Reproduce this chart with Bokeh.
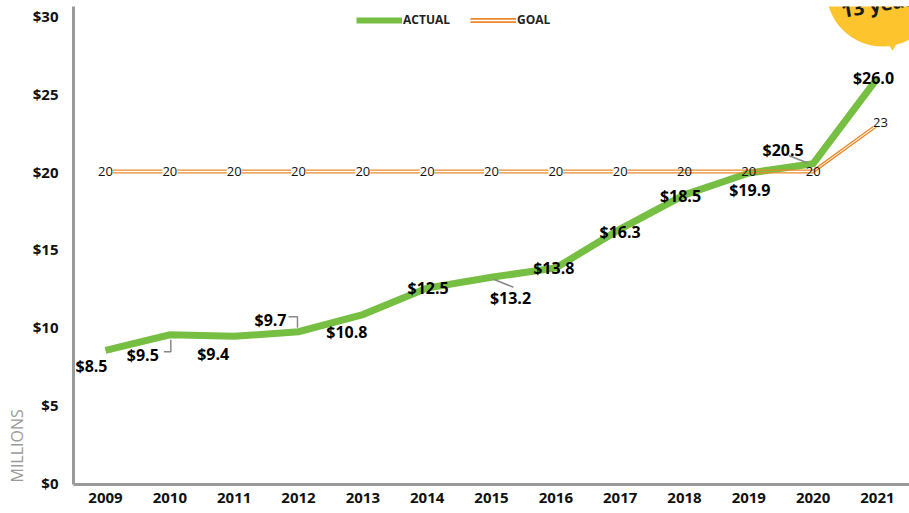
import math
from bokeh.plotting import figure
from bokeh.models import (Range1d, FixedTicker, NumeralTickFormatter, ColumnDataSource,
                          Legend, LegendItem, LabelSet, Title)
from bokeh.core.properties import value
from bokeh.embed import file_html
from bokeh.resources import INLINE

# ---------------- data ----------------
years = [2009, 2010, 2011, 2012, 2013, 2014, 2015, 2016, 2017, 2018, 2019, 2020, 2021]
year_labels = ["2009", "2010", "2011", "2012", "2013", "2014", "2015", "2016",
               "2017", "2018", "2019", "2020", "2021"]
actual = [8.5, 9.5, 9.4, 9.7, 10.8, 12.5, 13.2, 13.8, 16.3, 18.5, 19.9, 20.5, 26.0]
actual_labels = ["$8.5", "$9.5", "$9.4", "$9.7", "$10.8", "$12.5", "$13.2", "$13.8",
                 "$16.3", "$18.5", "$19.9", "$20.5", "$26.0"]
goal = [20, 20, 20, 20, 20, 20, 20, 20, 20, 20, 20, 20, 23]
goal_labels = ["20", "20", "20", "20", "20", "20", "20", "20", "20", "20", "20", "20", "23"]
y_ticks = [0, 5, 10, 15, 20, 25, 30]

# ---------------- style / layout ----------------
GREEN = "#76bf43"
ORANGE = "#ec8a2a"
AXIS_GRAY = "#9a9a9a"
YELLOW = "#fdc42e"
FONT = "Open Sans"

FIG_W, FIG_H = 909, 513
BORDER_L, BORDER_T, BORDER_B = 73, 6, 29
PX_X = 64.33   # pixels per year
PX_Y = 15.55   # pixels per million
x_start = years[0] - 32 / PX_X
x_end = x_start + (FIG_W - BORDER_L) / PX_X
y_start = -2 / PX_Y
y_end = y_start + (FIG_H - BORDER_T - BORDER_B) / PX_Y

# label offsets in screen pixels (positive y = down)
lab_dx = [-14, -27, -21, -28, -16, 1, 19, -2, 0, -4, 1, -30, -4]
lab_dy = [16, 20, 18, -12, 17, 0, 21, 0, 3, 1, 17, -14, 0]

p = figure(width=FIG_W, height=FIG_H, output_backend="svg", toolbar_location=None,
           x_range=Range1d(x_start, x_end), y_range=Range1d(y_start, y_end),
           min_border_left=BORDER_L, min_border_right=0, min_border_top=BORDER_T,
           min_border_bottom=BORDER_B)
p.outline_line_color = None
p.xgrid.visible = False
p.ygrid.visible = False
p.background_fill_color = "white"

# axes
for ax in (p.xaxis[0], p.yaxis[0]):
    ax.axis_line_color = AXIS_GRAY
    ax.axis_line_width = 3
    ax.major_tick_line_color = None
    ax.minor_tick_line_color = None
    ax.major_tick_out = 0
    ax.major_tick_in = 0
    ax.minor_tick_out = 0
    ax.minor_tick_in = 0
    ax.major_label_text_font = FONT
    ax.major_label_text_font_size = "15px"
    ax.major_label_text_color = "#111111"
    ax.major_label_text_font_style = "bold"

p.yaxis[0].ticker = FixedTicker(ticks=y_ticks)
p.yaxis[0].formatter = NumeralTickFormatter(format="$0")
p.yaxis[0].major_label_standoff = 15
p.xaxis[0].ticker = FixedTicker(ticks=years)
p.xaxis[0].major_label_overrides = {y: s for y, s in zip(years, year_labels)}
p.xaxis[0].major_label_standoff = 8

# "MILLIONS" unit label at the bottom of the left side
p.add_layout(Title(text="MILLIONS", align="left", text_font=FONT, text_font_size="16px",
                   text_font_style="normal", text_color="#9a9a9a", standoff=4,
                   offset=2), "left")

# yellow callout blob (cropped at top-right)
blob_x = years[-1] + 5 / PX_X
blob_y = y_end + 16 / PX_Y
p.scatter(x=[blob_x], y=[blob_y], size=112, marker="circle",
          fill_color=YELLOW, line_color=None)
p.scatter(x=[years[-1] + 15 / PX_X], y=[y_end - 39 / PX_Y], size=9, marker="triangle",
          angle=math.pi, fill_color=YELLOW, line_color=None)
p.text(x=[years[-1] - 36 / PX_X], y=[y_end - 4 / PX_Y], text=["13 years"],
       text_font=value(FONT), text_font_style="bold", text_font_size="20px",
       text_color="#1a1a1a", text_align="left", text_baseline="middle", angle=0.17)

# actual line
src = ColumnDataSource(dict(x=years, y=actual, lab=actual_labels, dx=lab_dx,
                            dy=[-d for d in lab_dy]))
p.line("x", "y", source=src, line_color=GREEN, line_width=7, line_join="miter")

# goal double line
off = 1.4 / PX_Y
p.line(years, [g + off for g in goal], line_color=ORANGE, line_width=1.3)
p.line(years, [g - off for g in goal], line_color=ORANGE, line_width=1.3)

# goal labels (white background where the actual line is far away)
near = [abs(a - g) < 2 for a, g in zip(actual, goal)]
g_dx = [3 if i == len(years) - 1 else 0 for i in range(len(years))]
g_dy = [-2 if i == len(years) - 1 else 0 for i in range(len(years))]


def subset(flag):
    idx = [i for i, n in enumerate(near) if n == flag]
    return ColumnDataSource(dict(x=[years[i] for i in idx], y=[goal[i] for i in idx],
                                 t=[goal_labels[i] for i in idx],
                                 dx=[g_dx[i] for i in idx], dy=[g_dy[i] for i in idx]))


p.text("x", "y", text="t", source=subset(False), x_offset="dx", y_offset="dy",
       text_font=value(FONT), text_font_size="13px", text_color="#111111",
       text_align="center", text_baseline="middle", background_fill_color="white")
p.text("x", "y", text="t", source=subset(True), x_offset="dx", y_offset="dy",
       text_font=value(FONT), text_font_size="13px", text_color="#111111",
       text_align="center", text_baseline="middle")

# leader lines (pixel offsets from the data point)
leaders = {1: [(-6, 17), (1, 17), (1, 5)],
           3: [(-10, -15), (-1, -15), (-1, -4)],
           6: [(2, 2), (22, 10)],
           11: [(-24, -8), (-6, -1)]}
xs, ys = [], []
for i, pts in leaders.items():
    xs.append([years[i] + dx / PX_X for dx, dy in pts])
    ys.append([actual[i] - dy / PX_Y for dx, dy in pts])
p.multi_line(xs, ys, line_color="#888888", line_width=1.5)

# value labels
p.add_layout(LabelSet(x="x", y="y", text="lab", source=src, x_offset="dx", y_offset="dy",
                      text_font=value(FONT), text_font_style="bold", text_font_size="16px",
                      text_color="#000000", text_align="center", text_baseline="middle"))

# legend (dummy renderers placed outside the visible range)
dx0 = [x_start - 5, x_start - 4]
dy0 = [0, 0]
r_leg_a = p.line(dx0, dy0, line_color=GREEN, line_width=6)
r_leg_o = p.line(dx0, dy0, line_color=ORANGE, line_width=5)
r_leg_w = p.line(dx0, dy0, line_color="white", line_width=1.6)
legend = Legend(items=[LegendItem(label="ACTUAL", renderers=[r_leg_a]),
                       LegendItem(label="GOAL", renderers=[r_leg_o, r_leg_w])],
                orientation="horizontal", location=(283, 456),
                glyph_width=46, glyph_height=12, label_height=12, label_width=10,
                label_standoff=1, spacing=20, padding=0, margin=0,
                border_line_color=None, background_fill_alpha=0,
                label_text_font=FONT, label_text_font_size="12px",
                label_text_font_style="bold", label_text_color="#222222")
p.add_layout(legend)

open("out.html", "w").write(file_html(p, INLINE))
